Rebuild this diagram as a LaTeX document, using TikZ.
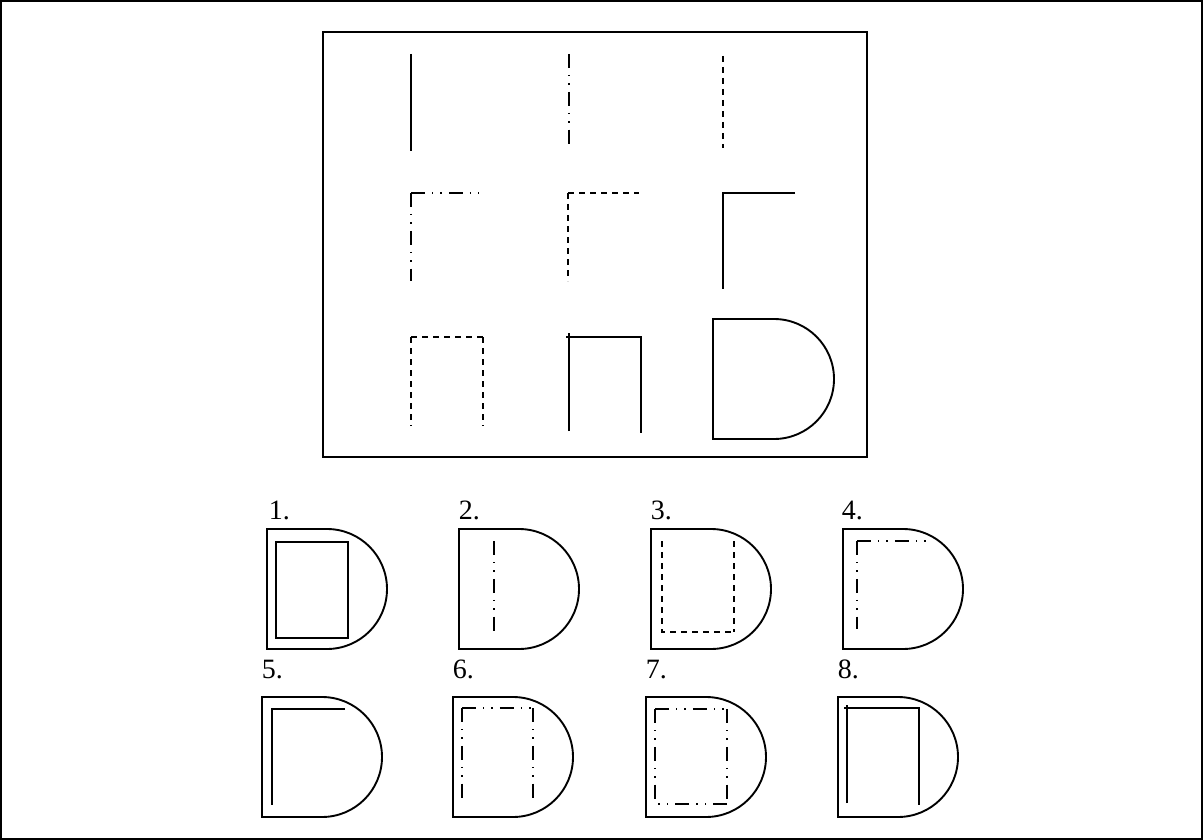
\documentclass[tikz,border=0pt]{standalone}
\usepackage{fontspec}
\setmainfont{Liberation Serif}
\begin{document}
\begin{tikzpicture}[x=1pt,y=-1pt,line width=1.9pt,
  solidln/.style={line width=1.9pt},
  dashln/.style={line width=1.9pt,dash pattern=on 6pt off 5pt},
  ddotln/.style={line width=1.9pt,dash pattern=on 14pt off 7pt on 1.4pt off 7pt on 1.4pt off 7pt},
  dshape/.style={line width=1.9pt},
  lbl/.style={anchor=base west,inner sep=0pt,font=\fontsize{28}{28}\selectfont}]
\useasboundingbox (0,0) rectangle (1203,840);
% outer border
\draw[line width=2.2pt] (1.1,1.1) rectangle (1201.9,838.9);
% inner box
\draw[line width=2.2pt] (323,32) rectangle (867,457);
% row 1
\draw[solidln] (411,54) -- (411,151);
\draw[ddotln] (569,54) -- (569,147);
\draw[dashln] (723,56) -- (723,148);
% row 2
\draw[ddotln] (411,193) -- (479,193);
\draw[ddotln] (411,193) -- (411,281);
\draw[dashln] (568,193) -- (639,193);
\draw[dashln] (568,193) -- (568,281);
\draw[solidln] (795,193) -- (723,193) -- (723,289);
% row 3
\draw[dashln] (411,337) -- (483,337);
\draw[dashln] (411,337) -- (411,426);
\draw[dashln] (483,337) -- (483,426);
\draw[solidln] (569,431) -- (569,333);
\draw[solidln] (566,337) -- (641,337) -- (641,433);
\draw[dshape] (713,319) -- (774,319) arc[start angle=90,end angle=-90,radius=60pt] -- (713,439) -- cycle;
% answer D shapes
\foreach \x/\y in {267/529, 459/529, 651/529, 843/529, 262/697, 453/697, 646/697, 838/697}
  \draw[dshape] (\x,\y) -- ({\x+60},\y) arc[start angle=90,end angle=-90,radius=60pt] -- (\x,{\y+120}) -- cycle;
% labels
\node[lbl] (l1) at (268,519) {1.};
\node[lbl] (l2) at (458,519) {2.};
\node[lbl] (l3) at (650,519) {3.};
\node[lbl] (l4) at (841,519) {4.};
\node[lbl] (l5) at (261,678) {5.};
\node[lbl] (l6) at (452,678) {6.};
\node[lbl] (l7) at (645,678) {7.};
\node[lbl] (l8) at (837,678) {8.};
% option 1
\draw[solidln] (276,542) rectangle (348,638);
% option 2
\draw[ddotln] (494,541) -- (494,633);
% option 3
\draw[dashln] (662,541) -- (662,632) -- (734,632);
\draw[dashln] (734,541) -- (734,632);
% option 4
\draw[ddotln] (857,541) -- (926,541);
\draw[ddotln] (857,541) -- (857,629);
% option 5
\draw[solidln] (345,709) -- (272,709) -- (272,805);
% option 6
\draw[ddotln] (462,708) -- (533,708);
\draw[ddotln] (462,708) -- (462,798);
\draw[ddotln] (533,708) -- (533,798);
% option 7
\draw[ddotln] (655,709) -- (727,709);
\draw[ddotln] (655,709) -- (655,804);
\draw[ddotln] (727,709) -- (727,804);
\draw[ddotln] (727,804) -- (655,804);
% option 8
\draw[solidln] (847,803) -- (847,705);
\draw[solidln] (844,708) -- (919,708) -- (919,805);
\end{tikzpicture}
\end{document}
